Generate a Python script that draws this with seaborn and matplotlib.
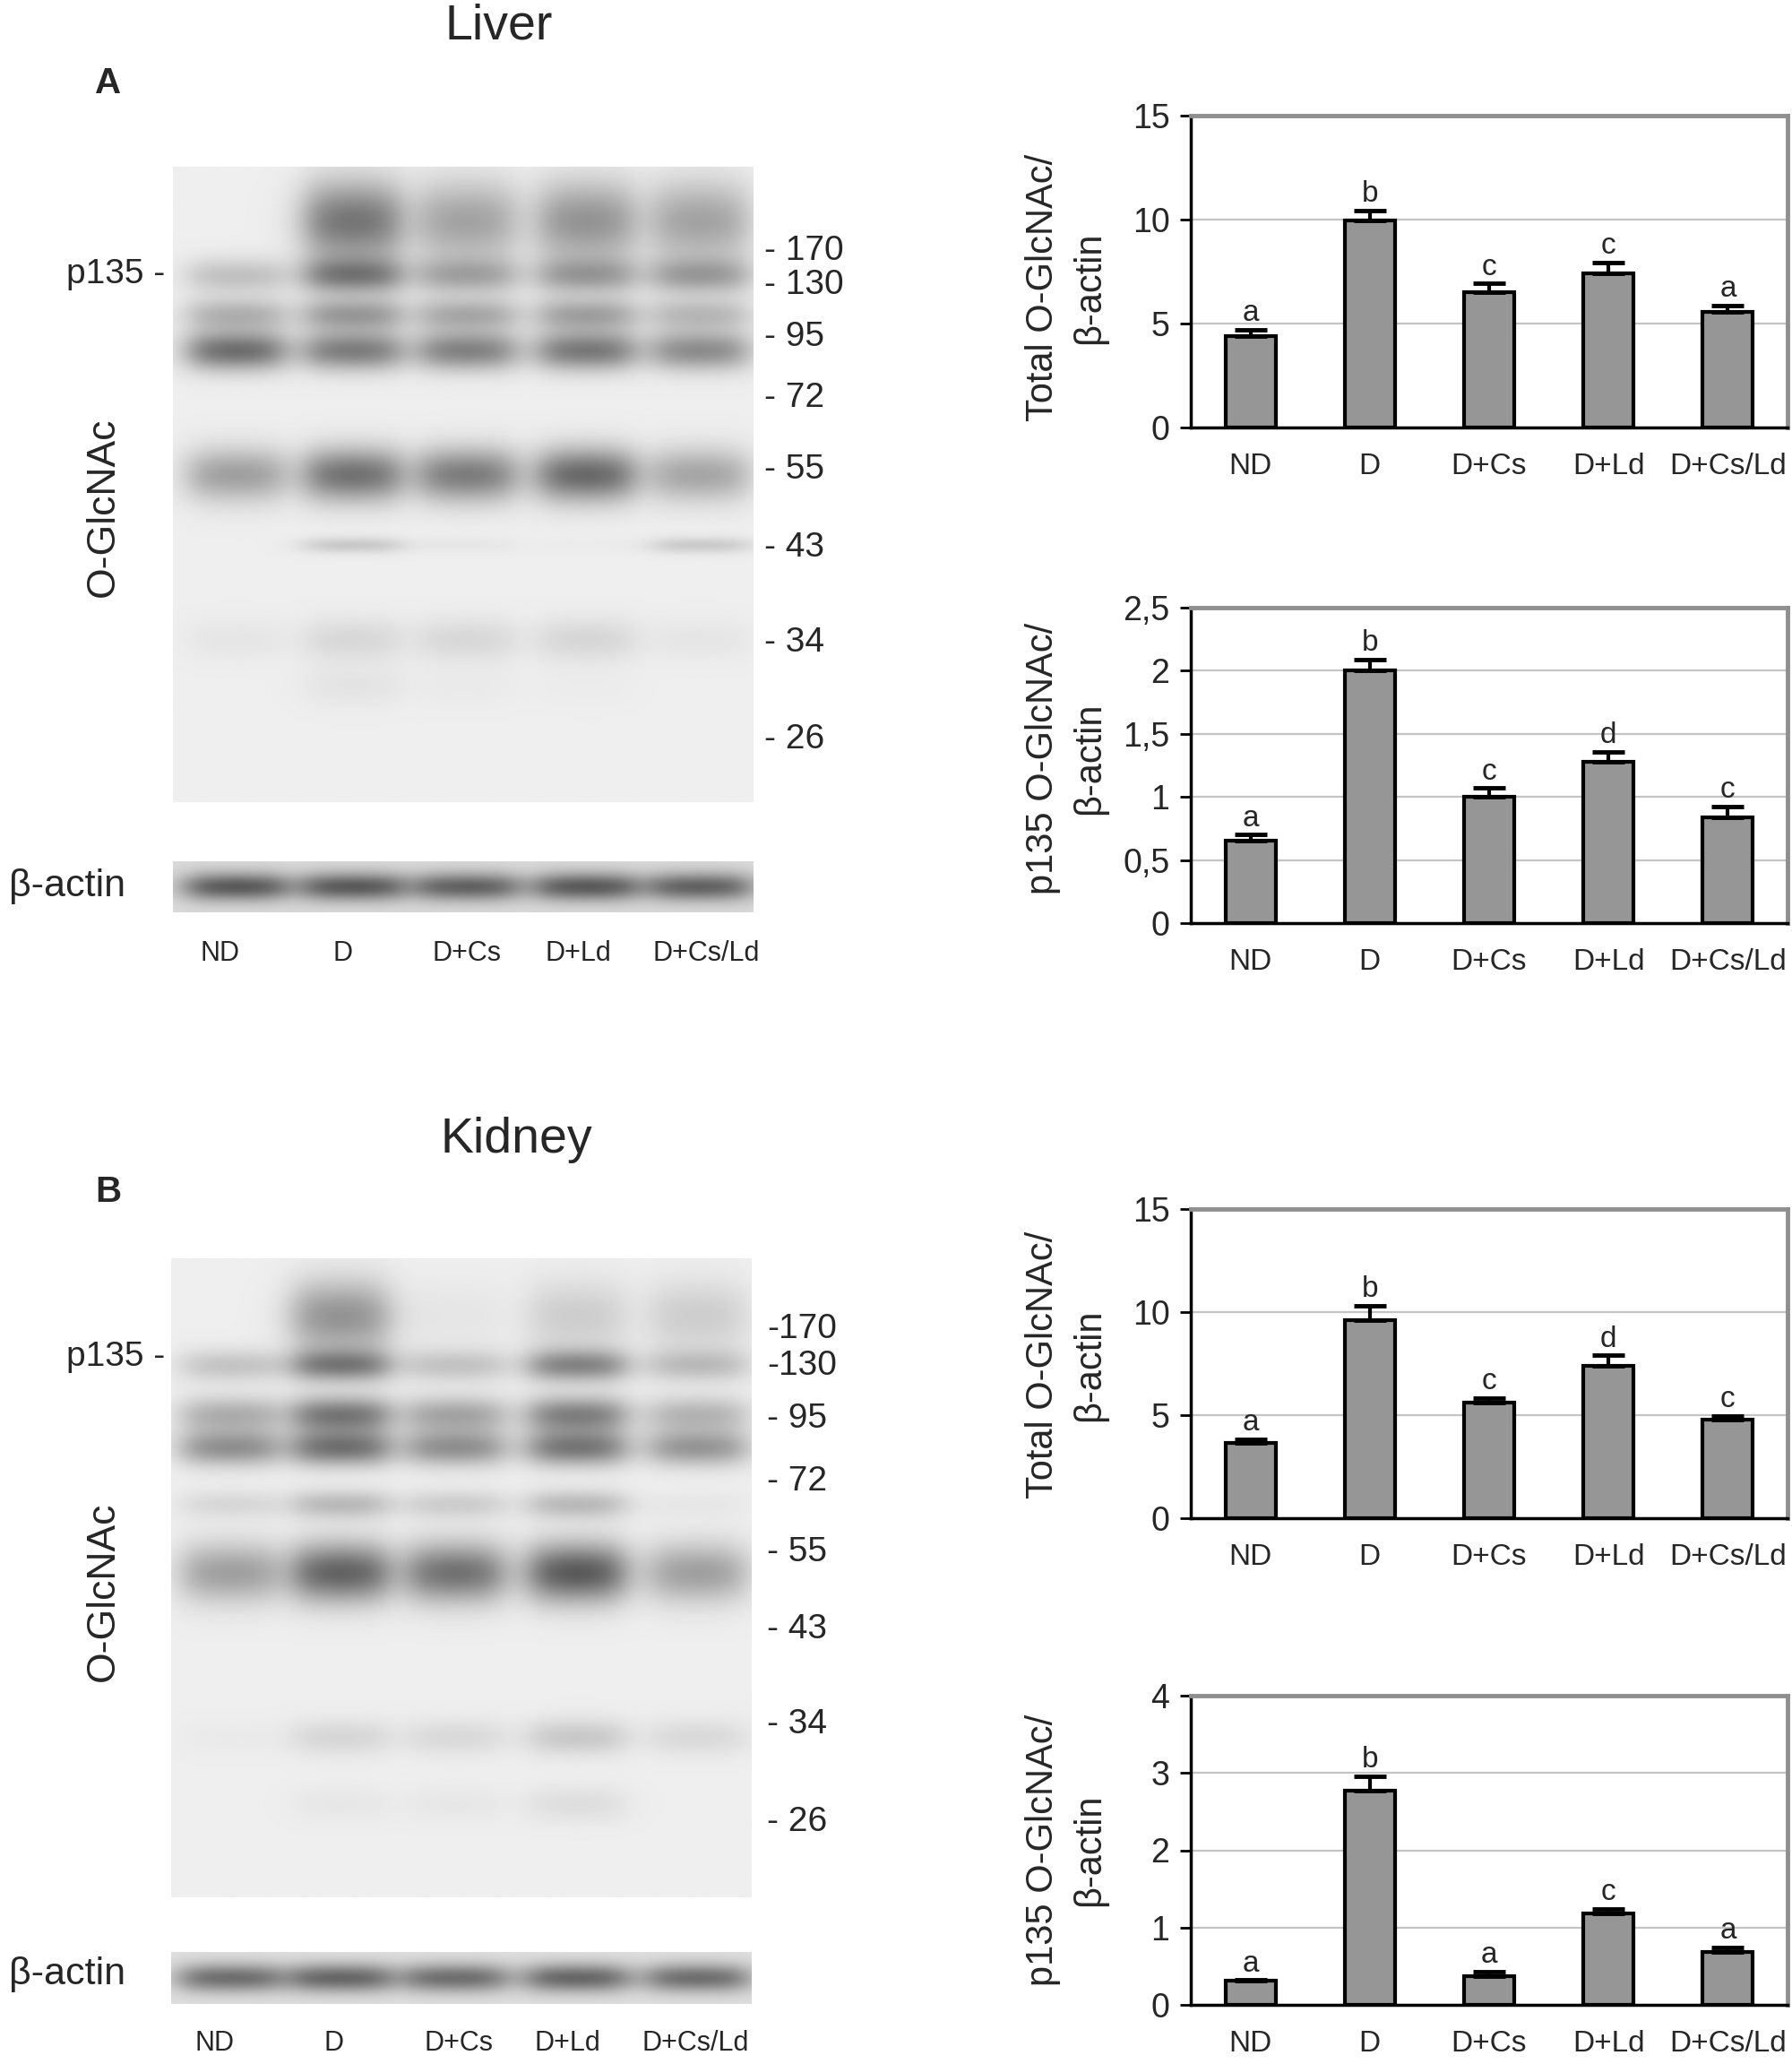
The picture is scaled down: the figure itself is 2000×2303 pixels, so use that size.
import numpy as np
import pandas as pd
import matplotlib
matplotlib.use('Agg')
import matplotlib.pyplot as plt
import seaborn as sns

sns.set_style('white')
plt.rcParams['font.family'] = ['Liberation Sans', 'DejaVu Sans']

W, H = 2000, 2303

groups = ['ND', 'D', 'D+Cs', 'D+Ld', 'D+Cs/Ld']

# bar chart data (mean, upper error, significance letter)
liver_total = [4.4, 9.95, 6.5, 7.4, 5.55]
liver_total_err = [0.3, 0.5, 0.42, 0.52, 0.32]
liver_total_sig = ['a', 'b', 'c', 'c', 'a']

liver_p135 = [0.65, 2.0, 1.0, 1.28, 0.84]
liver_p135_err = [0.05, 0.09, 0.07, 0.08, 0.085]
liver_p135_sig = ['a', 'b', 'c', 'd', 'c']

kidney_total = [3.65, 9.6, 5.62, 7.4, 4.77]
kidney_total_err = [0.18, 0.72, 0.2, 0.5, 0.2]
kidney_total_sig = ['a', 'b', 'c', 'd', 'c']

kidney_p135 = [0.31, 2.77, 0.37, 1.18, 0.68]
kidney_p135_err = [0.01, 0.19, 0.06, 0.06, 0.06]
kidney_p135_sig = ['a', 'b', 'a', 'c', 'a']

# western blot band densities (rows = bands, cols = lanes ND..D+Cs/Ld)
liver_band_pos = [0.085, 0.171, 0.232, 0.289, 0.485, 0.596, 0.745, 0.818]
liver_band_sig = [0.045, 0.02, 0.018, 0.022, 0.03, 0.009, 0.024, 0.024]
liver_band_int = [
    [0.00, 0.80, 0.50, 0.60, 0.50],
    [0.30, 0.70, 0.45, 0.50, 0.50],
    [0.40, 0.55, 0.45, 0.50, 0.35],
    [0.85, 0.75, 0.72, 0.78, 0.65],
    [0.52, 0.82, 0.75, 0.88, 0.48],
    [0.00, 0.25, 0.05, 0.02, 0.24],
    [0.06, 0.15, 0.15, 0.16, 0.06],
    [0.00, 0.07, 0.03, 0.02, 0.00],
]
liver_lanes = [0.108, 0.31, 0.507, 0.713, 0.91]
liver_actin = [0.85, 0.85, 0.80, 0.85, 0.80]

kidney_band_pos = [0.09, 0.167, 0.244, 0.296, 0.385, 0.492, 0.75, 0.855]
kidney_band_sig = [0.04, 0.018, 0.02, 0.02, 0.016, 0.033, 0.02, 0.02]
kidney_band_int = [
    [0.00, 0.60, 0.06, 0.22, 0.22],
    [0.28, 0.72, 0.28, 0.68, 0.32],
    [0.42, 0.78, 0.48, 0.72, 0.38],
    [0.62, 0.82, 0.62, 0.78, 0.58],
    [0.15, 0.35, 0.22, 0.35, 0.05],
    [0.52, 0.92, 0.82, 0.98, 0.52],
    [0.03, 0.16, 0.14, 0.25, 0.14],
    [0.00, 0.05, 0.05, 0.11, 0.00],
]
kidney_lanes = [0.10, 0.292, 0.49, 0.70, 0.909]
kidney_actin = [0.75, 0.80, 0.75, 0.80, 0.75]

mw_liver = ['- 170', '- 130', '- 95', '- 72', '- 55', '- 43', '- 34', '- 26']
mw_liver_y = [280, 318, 376, 444, 524, 611, 717, 825]
mw_kidney = ['-170', '-130', '- 95', '- 72', '- 55', '- 43', '- 34', '- 26']
mw_kidney_y = [1483, 1524, 1583, 1653, 1732, 1818, 1924, 2033]


def px_rect(l, t, r, b):
    return [l / W, 1 - b / H, (r - l) / W, (b - t) / H]


def ftext(x, y, s, **kw):
    fig.text(x / W, 1 - y / H, s, **kw)


def blot(pos, sig, dens, lanes, hw, nrow=400, ncol=300, bg=0.065):
    y = np.linspace(0, 1, nrow)[:, None]
    x = np.linspace(0, 1, ncol)[None, :]
    dark = np.full((nrow, ncol), bg)
    for j, c in enumerate(lanes):
        prof = 1 / (1 + np.exp((np.abs(x - c) - hw) / 0.018))
        for i in range(len(pos)):
            dark = dark + 0.6 * dens[i][j] * np.exp(-0.5 * ((y - pos[i]) / sig[i]) ** 2) * prof
    return 1 - np.clip(dark, 0, 1)


def draw_blot(rect, img):
    ax = fig.add_axes(px_rect(*rect))
    ax.imshow(img, cmap='gray', vmin=0, vmax=1, aspect='auto', interpolation='bilinear')
    ax.axis('off')


def bar_panel(rect, vals, errs, sig, ymax, yticks, yticklabels, ylabel, ylab_y):
    ax = fig.add_axes(px_rect(*rect))
    df = pd.DataFrame({'group': groups, 'value': vals})
    sns.barplot(data=df, x='group', y='value', color='#969696', saturation=1,
                edgecolor='black', linewidth=3, width=0.42, errorbar=None, ax=ax)
    ax.errorbar(range(len(groups)), vals, yerr=[np.zeros(len(vals)), errs], fmt='none',
                ecolor='black', elinewidth=3, capsize=13, capthick=3.5, zorder=3)
    for i, (v, e, s) in enumerate(zip(vals, errs, sig)):
        ax.annotate(s, (i, v + e), xytext=(0, 2), textcoords='offset points',
                    ha='center', va='bottom', fontsize=24)
    ax.set_xlim(-0.5, len(groups) - 0.5)
    ax.set_ylim(0, ymax)
    ax.set_yticks(yticks)
    ax.set_yticklabels(yticklabels, fontsize=27)
    ax.set_xticks(range(len(groups)))
    ax.set_xticklabels(groups, fontsize=24)
    ax.set_xticks(np.arange(-0.5, len(groups), 1), minor=True)
    ax.tick_params(axis='x', which='major', length=0, pad=20)
    ax.tick_params(axis='x', which='minor', length=9, width=1.5, color='#333333', direction='out')
    ax.tick_params(axis='y', which='major', length=9, width=2, color='black', direction='out', pad=8, left=True)
    ax.set_xlabel('')
    ax.set_ylabel('')
    ax.yaxis.grid(True, color='#c4c4c4', linewidth=1.6)
    ax.set_axisbelow(True)
    for side in ['left', 'bottom']:
        ax.spines[side].set_color('black')
        ax.spines[side].set_linewidth(2.5)
    for side in ['top', 'right']:
        ax.spines[side].set_color('#8f8f8f')
        ax.spines[side].set_linewidth(3.5)
    ftext(1190, ylab_y, ylabel, rotation=90, ha='center', va='center',
          fontsize=30, multialignment='center', linespacing=1.4)
    return ax


fig = plt.figure(figsize=(W / 100, H / 100), dpi=100)

# ---------- A: liver ----------
ftext(557, 30, 'Liver', fontsize=40, ha='center', va='center')
ftext(121, 93, 'A', fontsize=29, fontweight='bold', ha='center', va='center')

draw_blot((193, 186, 840, 895),
          blot(liver_band_pos, liver_band_sig, liver_band_int, liver_lanes, 0.08))
draw_blot((193, 961, 840, 1018),
          blot([0.5], [0.2], [liver_actin], liver_lanes, 0.085, nrow=60, bg=0.14))
ftext(184, 306, 'p135 -', fontsize=28, ha='right', va='center')
ftext(115, 566, 'O-GlcNAc', fontsize=32, rotation=90, ha='center', va='center')
ftext(10, 989, 'β-actin', fontsize=31, ha='left', va='center')
for lab, y in zip(mw_liver, mw_liver_y):
    ftext(853, y, lab, fontsize=28, ha='left', va='center')
for lab, x in zip(groups, [245, 382, 521, 645, 788]):
    ftext(x, 1064, lab, fontsize=22, ha='center', va='center')

bar_panel((1329, 129, 1995, 477), liver_total, liver_total_err, liver_total_sig,
          15, [0, 5, 10, 15], ['0', '5', '10', '15'], 'Total O-GlcNAc/\nβ-actin', 321)
bar_panel((1329, 678, 1995, 1030), liver_p135, liver_p135_err, liver_p135_sig,
          2.5, [0, 0.5, 1, 1.5, 2, 2.5], ['0', '0,5', '1', '1,5', '2', '2,5'],
          'p135 O-GlcNAc/\nβ-actin', 846)

# ---------- B: kidney ----------
ftext(576, 1272, 'Kidney', fontsize=40, ha='center', va='center')
ftext(121, 1330, 'B', fontsize=29, fontweight='bold', ha='center', va='center')

draw_blot((191, 1404, 839, 2117),
          blot(kidney_band_pos, kidney_band_sig, kidney_band_int, kidney_lanes, 0.08))
draw_blot((191, 2178, 839, 2236),
          blot([0.5], [0.2], [kidney_actin], kidney_lanes, 0.085, nrow=60, bg=0.12))
ftext(184, 1514, 'p135 -', fontsize=28, ha='right', va='center')
ftext(115, 1776, 'O-GlcNAc', fontsize=32, rotation=90, ha='center', va='center')
ftext(10, 2203, 'β-actin', fontsize=31, ha='left', va='center')
for lab, y in zip(mw_kidney, mw_kidney_y):
    ftext(856, y, lab, fontsize=28, ha='left', va='center')
for lab, x in zip(groups, [239, 373, 512, 633, 776]):
    ftext(x, 2280, lab, fontsize=22, ha='center', va='center')

bar_panel((1329, 1349, 1995, 1694), kidney_total, kidney_total_err, kidney_total_sig,
          15, [0, 5, 10, 15], ['0', '5', '10', '15'], 'Total O-GlcNAc/\nβ-actin', 1523)
bar_panel((1329, 1892, 1995, 2237), kidney_p135, kidney_p135_err, kidney_p135_sig,
          4, [0, 1, 2, 3, 4], ['0', '1', '2', '3', '4'], 'p135 O-GlcNAc/\nβ-actin', 2064)

fig.savefig('out.png', dpi=100, facecolor='white')
